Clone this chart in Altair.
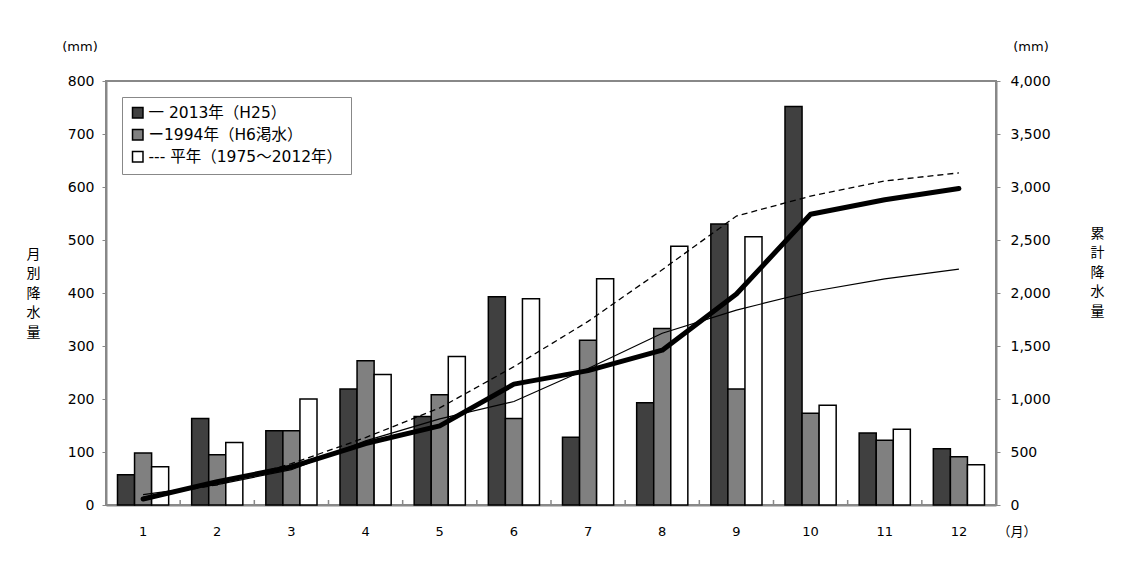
import altair as alt
import pandas as pd

months = list(range(1, 13))
series_names = ["2013年（H25）", "1994年（H6渇水）", "平年（1975～2012年）"]
legend_labels = ["一 2013年（H25）", "ー1994年（H6渇水）", "--- 平年（1975～2012年）"]
bar_colors = ["#404040", "#808080", "#ffffff"]

rain_2013 = [57, 163, 140, 219, 167, 393, 128, 193, 530, 752, 136, 106]
rain_1994 = [98, 95, 140, 272, 208, 163, 311, 333, 219, 173, 122, 91]
rain_normal = [72, 118, 200, 246, 280, 389, 427, 488, 506, 188, 143, 76]

cum_2013 = [57, 220, 360, 580, 747, 1140, 1268, 1461, 1991, 2743, 2879, 2985]
cum_1994 = [98, 193, 333, 605, 813, 976, 1287, 1620, 1839, 2012, 2134, 2225]
cum_normal = [72, 190, 390, 636, 916, 1305, 1732, 2220, 2726, 2914, 3057, 3133]

FONT = "DejaVu Sans, Noto Sans CJK JP"
CJK = "Noto Sans CJK JP"

rows = []
for name, vals in zip(series_names, [rain_2013, rain_1994, rain_normal]):
    for m, v in zip(months, vals):
        rows.append({"month": str(m), "bar_series": name, "value": v})
bar_df = pd.DataFrame(rows)

line_df = pd.DataFrame({
    "month": [str(m) for m in months],
    "c2013": cum_2013,
    "c1994": cum_1994,
    "cnormal": cum_normal,
})

month_sort = [str(m) for m in months]

label_expr = ("datum.label == '%s' ? '%s' : datum.label == '%s' ? '%s' : '%s'"
              % (series_names[0], legend_labels[0], series_names[1], legend_labels[1], legend_labels[2]))

x_enc = alt.X("month:N", sort=month_sort,
              scale=alt.Scale(paddingInner=0.31, paddingOuter=0.155),
              axis=alt.Axis(title=None, labelAngle=0, labelFont=FONT, labelFontSize=13,
                            labelColor="#000", tickSize=0, labelPadding=20,
                            domainColor="#888888", domainWidth=2))

bars = alt.Chart(bar_df).mark_bar(stroke="black", strokeWidth=1.5).encode(
    x=x_enc,
    xOffset=alt.XOffset("bar_series:N", sort=series_names, scale=alt.Scale(paddingInner=0, paddingOuter=0)),
    y=alt.Y("value:Q", scale=alt.Scale(domain=[0, 800], nice=False),
            axis=alt.Axis(values=list(range(0, 801, 100)), grid=False, title=["月", "別", "降", "水", "量"],
                          titleAngle=0, titleX=-73, titleY=166, titleAlign="center",
                          titleBaseline="top", titleLineHeight=19.5, titleFont=CJK,
                          titleFontSize=14, titleFontWeight="normal", titleColor="#000",
                          labelFont=FONT, labelFontSize=14, labelColor="#000", labelPadding=8,
                          tickSize=4, tickColor="#888888", domainColor="#888888", domainWidth=2)),
    fill=alt.Fill("bar_series:N", sort=series_names,
                  scale=alt.Scale(domain=series_names, range=bar_colors),
                  legend=alt.Legend(title=None, orient="none", legendX=16, legendY=16,
                                    symbolType="square", symbolSize=110, symbolStrokeColor="black",
                                    symbolStrokeWidth=1.5, labelExpr=label_expr,
                                    labelFont=FONT, labelLimit=500,
                                    labelFontSize=15.5, labelColor="#000", rowPadding=4,
                                    padding=8, strokeColor="#888888", fillColor="white",
                                    labelOffset=3)),
)

tick_df = pd.DataFrame({"month": month_sort})
sep_ticks = alt.Chart(tick_df).mark_rule(color="#888888", strokeWidth=1.5, xOffset=-11.5).encode(
    x=alt.X("month:N", sort=month_sort, bandPosition=0),
    y=alt.value(424), y2=alt.value(419))

y_right = alt.Y("c2013:Q", scale=alt.Scale(domain=[0, 4000], nice=False),
                axis=alt.Axis(orient="right", values=list(range(0, 4001, 500)), format=",.0f", grid=False,
                              title=["累", "計", "降", "水", "量"], titleAngle=0, titleX=101, titleY=145,
                              titleAlign="center", titleBaseline="top", titleLineHeight=19.5,
                              titleFont=CJK, titleFontSize=14, titleFontWeight="normal", titleColor="#000",
                              labelFont=FONT, labelFontSize=14, labelColor="#000", labelPadding=10,
                              tickSize=4, tickColor="#888888", domainColor="#888888", domainWidth=2))

x_line = alt.X("month:N", sort=month_sort, bandPosition=0.5)
base = alt.Chart(line_df)
l_normal = base.mark_line(color="black", strokeWidth=1.3, strokeDash=[6, 4]).encode(
    x=x_line, y=alt.Y("cnormal:Q"))
l_1994 = base.mark_line(color="black", strokeWidth=1.2).encode(x=x_line, y=alt.Y("c1994:Q"))
l_2013 = base.mark_line(color="black", strokeWidth=5, strokeCap="round", strokeJoin="round").encode(
    x=x_line, y=y_right)
lines = alt.layer(l_2013, l_normal, l_1994)

unit_df = pd.DataFrame({"t": ["(mm)"]})
mm_left = alt.Chart(unit_df).mark_text(font=FONT, fontSize=13, color="#000").encode(
    text="t:N", x=alt.value(-26), y=alt.value(-34))
mm_right = alt.Chart(unit_df).mark_text(font=FONT, fontSize=13, color="#000").encode(
    text="t:N", x=alt.value(925), y=alt.value(-34))
month_df = pd.DataFrame({"t": ["（月）"]})
month_unit = alt.Chart(month_df).mark_text(font=CJK, fontSize=13, color="#000").encode(
    text="t:N", x=alt.value(911), y=alt.value(451))

chart = alt.layer(bars, sep_ticks, lines, mm_left, mm_right, month_unit).resolve_scale(
    y="independent"
).properties(
    width=890, height=424,
    autosize=alt.AutoSizeParams(type="none"),
    padding={"left": 98, "top": 73, "right": 110, "bottom": 50},
    background="white",
).configure_view(stroke="#888888", strokeWidth=2)

chart.save("out.html", embed_options={"renderer": "svg", "actions": False})
